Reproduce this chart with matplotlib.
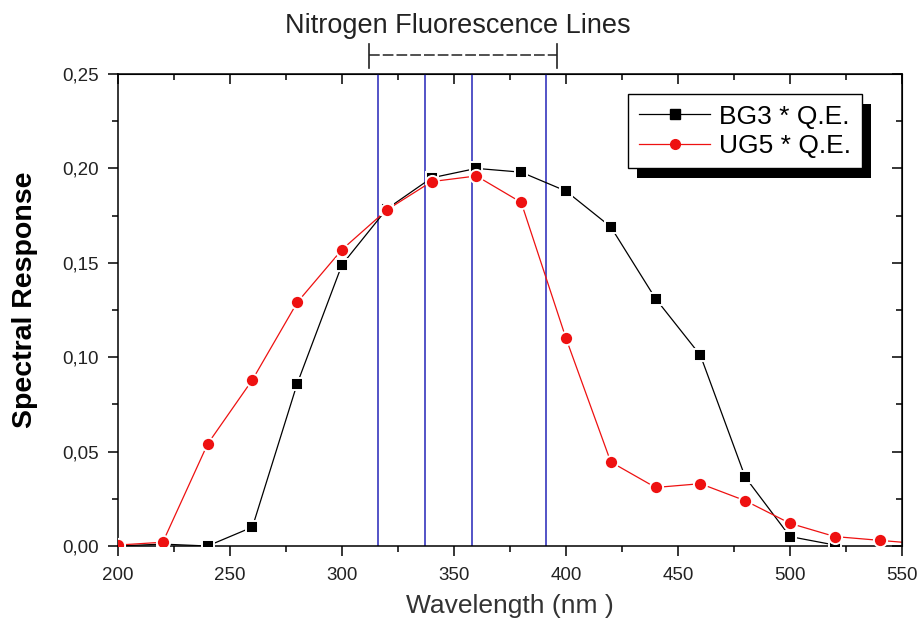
import matplotlib
matplotlib.use("Agg")
import matplotlib.pyplot as plt
from matplotlib.lines import Line2D
from matplotlib.patches import Rectangle
from matplotlib.ticker import MultipleLocator

plt.rcParams['font.family'] = ['Liberation Sans', 'DejaVu Sans']

# Spectral response of filter * quantum efficiency
bg3_wl = [200, 220, 240, 260, 280, 300, 320, 340, 360, 380, 400, 420, 440, 460, 480, 500, 520]
bg3_resp = [0.000, 0.001, 0.000, 0.010, 0.086, 0.149, 0.1785, 0.195, 0.200, 0.198, 0.188,
            0.169, 0.131, 0.101, 0.0365, 0.005, 0.0005]

ug5_wl = [200, 220, 240, 260, 280, 300, 320, 340, 360, 380, 400, 420, 440, 460, 480,
          500, 520, 540, 560]
ug5_resp = [0.0005, 0.002, 0.054, 0.088, 0.129, 0.157, 0.178, 0.193, 0.196, 0.182, 0.110,
            0.0445, 0.031, 0.033, 0.024, 0.012, 0.005, 0.003, 0.001]

# Nitrogen fluorescence lines (nm)
n2_lines = [316, 337, 358, 391]
n2_band = [312, 396]

x_ticks = [200, 250, 300, 350, 400, 450, 500, 550]
y_ticks = [0.00, 0.05, 0.10, 0.15, 0.20, 0.25]
y_tick_labels = ['0,00', '0,05', '0,10', '0,15', '0,20', '0,25']

W, H = 920, 628
fig = plt.figure(figsize=(W / 100, H / 100), dpi=100)
ax = fig.add_axes([118 / W, 1 - 546 / H, (902 - 118) / W, (546 - 74) / H])

for wl in n2_lines:
    ax.axvline(wl, color='#2424b8', lw=1.1, zorder=1)

series = [
    (bg3_wl, bg3_resp, 'black', 's', 9, 'BG3 * Q.E.'),
    (ug5_wl, ug5_resp, '#ee1111', 'o', 9.5, 'UG5 * Q.E.'),
]
handles = []
for wl, resp, col, mk, ms, lab in series:
    ax.plot(wl, resp, color=col, lw=0.9, zorder=2)
    ax.plot(wl, resp, ls='none', marker=mk, ms=ms, mfc=col, mec='white', mew=1.4, zorder=3)
    handles.append(Line2D([], [], color=col, lw=0.9, marker=mk, ms=7, mfc=col, mec=col))

ax.set_xlim(200, 550)
ax.set_ylim(0, 0.25)
ax.set_xticks(x_ticks)
ax.xaxis.set_minor_locator(MultipleLocator(25))
ax.set_yticks(y_ticks)
ax.set_yticklabels(y_tick_labels)
ax.yaxis.set_minor_locator(MultipleLocator(0.025))
ax.tick_params(which='major', direction='out', length=7, width=1.1, labelsize=13.5,
               labelcolor='#222222', top=False, right=False)
ax.tick_params(which='minor', direction='out', length=4, width=1.1, top=False, right=False)
ax.tick_params(axis='x', pad=8)
ax.tick_params(axis='y', pad=7)
for sp in ax.spines.values():
    sp.set_linewidth(1.1)

top = ax.secondary_xaxis('top')
top.set_xticks(x_ticks)
top.xaxis.set_minor_locator(MultipleLocator(25))
top.tick_params(which='major', direction='in', length=7, width=1.1, labeltop=False)
top.tick_params(which='minor', direction='in', length=4, width=1.1)
right = ax.secondary_yaxis('right')
right.set_yticks(y_ticks)
right.yaxis.set_minor_locator(MultipleLocator(0.025))
right.tick_params(which='major', direction='in', length=7, width=1.1, labelright=False)
right.tick_params(which='minor', direction='in', length=4, width=1.1)

ax.set_xlabel('Wavelength (nm )', fontsize=19, color='#333333', labelpad=7)
ax.set_ylabel('Spectral Response', fontsize=20.5, fontweight='bold')
ax.yaxis.set_label_coords((38 - 118) / 784, (546 - 300) / 472)

# Bracket spanning the fluorescence lines above the plot
btrans = ax.get_xaxis_transform()
y_mid = (546 - 55) / 472
y_lo, y_hi = (546 - 68) / 472, (546 - 44) / 472
for xb in n2_band:
    ax.plot([xb, xb], [y_lo, y_hi], color='#222222', lw=1.2, transform=btrans, clip_on=False)
ax.plot(n2_band, [y_mid, y_mid], color='#222222', lw=1.1, ls=(0, (7, 2)),
        transform=btrans, clip_on=False)
fig.text(458 / W, 1 - 26 / H, 'Nitrogen Fluorescence Lines', fontsize=19.5,
         color='#222222', ha='center', va='center')

# Legend with a solid drop shadow
leg = ax.legend(handles=handles, labels=[s[5] for s in series], loc='upper right',
                bbox_to_anchor=(862 / W, 1 - 94 / H), bbox_transform=fig.transFigure,
                borderaxespad=0, fancybox=False, framealpha=1, edgecolor='black',
                fontsize=19, handlelength=2.7, handletextpad=0.35, labelspacing=0.2,
                borderpad=0.4)
leg.get_frame().set_linewidth(1.0)
leg.set_zorder(6)
fig.canvas.draw()
bb = leg.get_window_extent().transformed(fig.transFigure.inverted())
ax.add_patch(Rectangle((bb.x0 + 9 / W, bb.y0 - 10 / H), bb.width, bb.height,
                       transform=fig.transFigure, facecolor='black', edgecolor='none',
                       clip_on=False, zorder=5))

fig.savefig('out.png', dpi=100)
